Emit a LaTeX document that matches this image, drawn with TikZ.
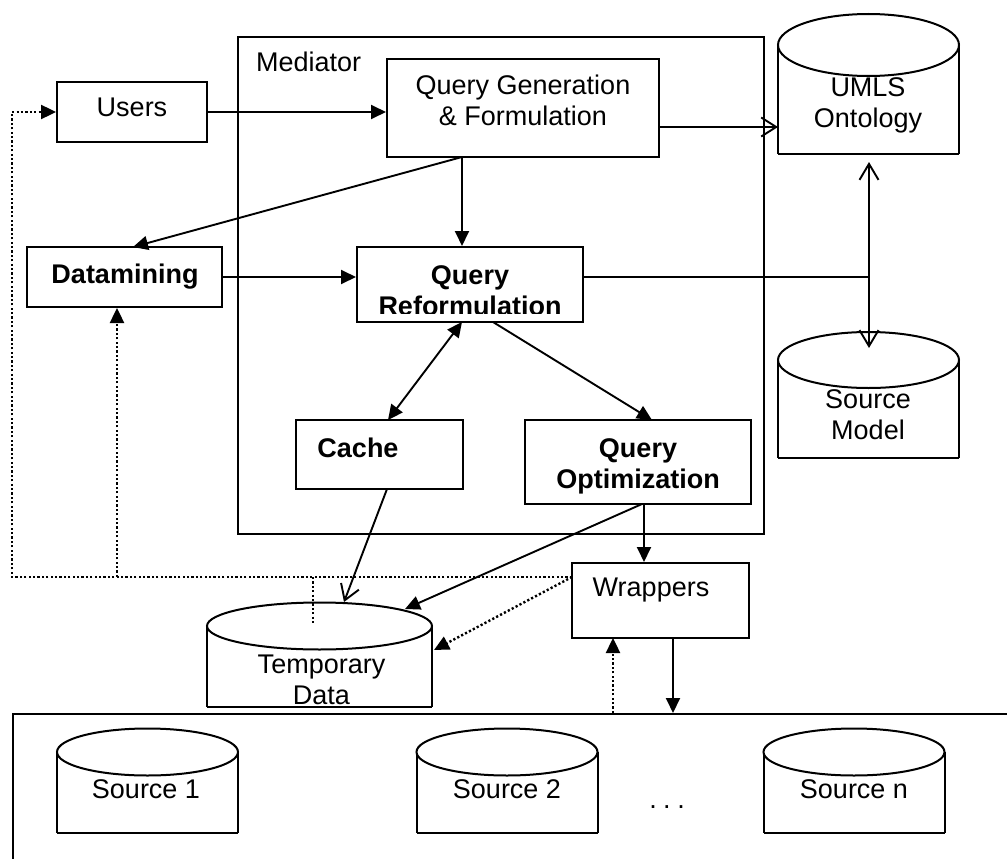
\documentclass[tikz,border=0pt]{standalone}
\usepackage{fontspec}
\setmainfont{Liberation Sans}
\usetikzlibrary{arrows.meta,calc}
\newcommand\dbcyl[6]{% name, cx, ellipse cy, bottom y, rx, ry
  \draw[line width=2pt] (#2-#5,#3) -- (#2-#5,#4);
  \draw[line width=2pt] (#2+#5,#4) -- (#2+#5,#3);
  \draw[line width=2.6pt] (#2-#5,#4) -- (#2+#5,#4);
  \draw[line width=2pt, fill=white] (#2,#3) ellipse [x radius=#5, y radius=#6];
  \coordinate (#1) at (#2,#3);
}
\begin{document}
\begin{tikzpicture}[x=1pt,y=-1pt,
  every node/.style={font=\fontsize{27}{31}\selectfont},
  box/.style={draw, line width=2pt, rectangle, inner sep=0pt},
  txt/.style={align=center, inner sep=0pt},
  bftxt/.style={align=center, inner sep=0pt, font=\fontsize{27}{31}\selectfont\bfseries},
  conn/.style={line width=1.9pt},
  tri/.style={-{Triangle[length=15pt,width=14pt]}},
  dtri/.style={{Triangle[length=15pt,width=14pt]}-{Triangle[length=15pt,width=14pt]}},
  barb/.style={-{Straight Barb[length=15pt,width=19pt]}},
  dbarb/.style={{Straight Barb[length=16pt,width=19pt]}-{Straight Barb[length=16pt,width=19pt]}},
  dotline/.style={line width=2.4pt, dash pattern=on 2.2pt off 2.2pt},
]
\path[use as bounding box] (0,0) rectangle (1007,859);
\clip (0,0) rectangle (1007,859);

% Mediator frame
\node[box, minimum width=526pt, minimum height=497pt, anchor=north west] (med) at (237,36) {};
\node[anchor=base west, inner sep=0pt] (medt) at (256,72) {Mediator};

% boxes
\node[box, minimum width=150pt, minimum height=60pt] (users) at (132,112) {};
\node[txt] (userst) at (132,107) {Users};
\node[box, minimum width=272pt, minimum height=98pt] (qg) at (523,108) {};
\node[txt] (qgt) at (523,100.5) {Query Generation\\\& Formulation};
\node[box, minimum width=195pt, minimum height=60pt] (dm) at (124.5,277) {};
\node[bftxt] (dmt) at (125,276.5) {Datamining};
\node[box, minimum width=226pt, minimum height=75pt] (qr) at (470,284.5) {};
\begin{scope}
  \clip (357,247) rectangle (583,313);
  \node[bftxt] (qrt) at (470,290.5) {Query\\Reformulation};
\end{scope}
\node[box, minimum width=167pt, minimum height=69pt] (cache) at (379.5,454.5) {};
\node[bftxt] (cachet) at (358,447.5) {Cache};
\node[box, minimum width=226pt, minimum height=84pt] (qo) at (638,462) {};
\node[bftxt] (qot) at (638,466) {Query\\Optimization};
\node[box, minimum width=177pt, minimum height=75pt] (wr) at (660.5,600.5) {};
\node[txt] (wrt) at (651,590.5) {Wrappers};

% sources frame
\node[box, minimum width=1010pt, minimum height=170pt, anchor=north west] (src) at (12,713) {};

% cylinders
\dbcyl{umls}{868.5}{45}{154}{90.5}{31}
\node[txt] (umlst) at (868,105.5) {UMLS\\Ontology};
\dbcyl{sm}{868.5}{360}{458}{90.5}{28}
\node[txt] (smt) at (868,415) {Source\\Model};
\dbcyl{tmp}{319.5}{626}{707}{112.5}{23.5}
\node[txt] (tmpt) at (321.5,680) {Temporary\\Data};
\dbcyl{s1}{147.5}{752}{833}{90.5}{23.5}
\node[txt] (s1t) at (146,789.5) {Source 1};
\dbcyl{s2}{507}{752}{833}{90.5}{23.5}
\node[txt] (s2t) at (507,789.5) {Source 2};
\dbcyl{sn}{854}{752}{833}{90.5}{23.5}
\node[txt] (snt) at (854,789.5) {Source n};
\node[anchor=base, inner sep=0pt] (dots) at (667,808) {.\hspace{6.5pt}.\hspace{6.5pt}.};

% connector end points
\coordinate (umlsW) at (778,127);
\coordinate (junc) at (869,277);
\coordinate (umlsS) at (869,162);
\coordinate (smN) at (869,348);
\coordinate (qgA) at (462,157);
\coordinate (dmA) at (133,247);
\coordinate (qrA) at (462,322);
\coordinate (cacheA) at (388,420);
\coordinate (qrB) at (493,322);
\coordinate (qoA) at (652,420);
\coordinate (cacheB) at (387,489);
\coordinate (tmpA) at (344,602);
\coordinate (qoB) at (642,504);
\coordinate (tmpB) at (405,609);
\coordinate (qoC) at (644,504);
\coordinate (wrA) at (673,638);
\coordinate (wrB) at (613,638);
\coordinate (wrL) at (572,577);
\coordinate (loopA) at (12,577);
\coordinate (loopB) at (12,112);
\coordinate (brA) at (117,577);
\coordinate (brB) at (313,577);
\coordinate (stub) at (313,623);
\coordinate (tmpC) at (434,650);

% solid connectors
\draw[conn,tri] (users.east) -- (users.east -| qg.west);
\draw[conn,barb] (qg.east |- umlsW) -- (umlsW);
\draw[conn,tri] (qg.south -| qgA) -- (qr.north -| qgA);
\draw[conn,tri] (qgA) -- (dmA);
\draw[conn,tri] (dm.east) -- (dm.east -| qr.west);
\draw[conn] (qr.east |- junc) -- (junc);
\draw[conn,dbarb] (umlsS) -- (smN);
\draw[conn,dtri] (qrA) -- (cacheA);
\draw[conn,tri] (qrB) -- (qoA);
\draw[conn,barb] (cacheB) -- (tmpA);
\draw[conn,tri] (qoB) -- (tmpB);
\draw[conn,tri] (qoC) -- (qoC |- wr.north);
\draw[conn,tri] (wrA) -- (wrA |- src.north);

% dotted connectors
\draw[dotline,tri] (wrB |- src.north) -- (wrB);
\draw[dotline,tri] (wrL) -- (loopA) -- (loopB) -- (users.west);
\draw[dotline,tri] (brA) -- (brA |- dm.south);
\draw[dotline] (brB) -- (stub);
\draw[dotline,tri] (wrL) -- (tmpC);
\end{tikzpicture}
\end{document}
